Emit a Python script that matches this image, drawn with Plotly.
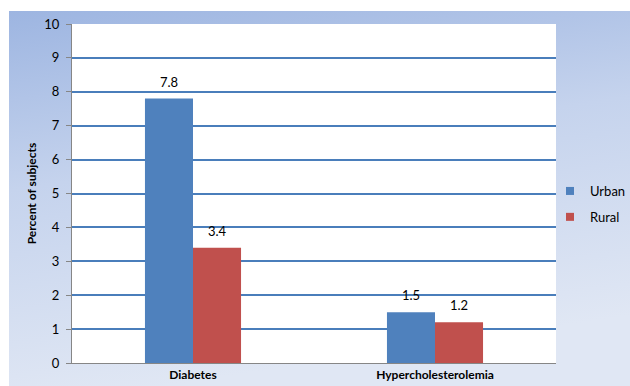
import base64
import plotly.graph_objects as go

categories = ["Diabetes", "Hypercholesterolemia"]
urban = [7.8, 1.5]
rural = [3.4, 1.2]
series_names = ["Urban", "Rural"]
y_ticks = list(range(0, 11))

W, H = 630, 386
ML, MR, MT, MB = 72, 74, 24, 23
PW, PH = W - ML - MR, H - MT - MB
BAR_PX = PW / 2 * (1 - 0.603) / 2  # width of one bar in pixels

# gradient background (chart area of the original)
bx0, by0, bx1, by1 = 9, 11, 630, 386
svg = f'''<svg xmlns="http://www.w3.org/2000/svg" width="{bx1-bx0}" height="{by1-by0}" viewBox="0 0 {bx1-bx0} {by1-by0}" preserveAspectRatio="none">
<defs><linearGradient id="g" x1="0" y1="0" x2="0.25" y2="1">
<stop offset="0" stop-color="#9db5e1"/><stop offset="0.45" stop-color="#c5d3ed"/><stop offset="1" stop-color="#e0e7f4"/>
</linearGradient></defs>
<rect x="0" y="0" width="{bx1-bx0}" height="{by1-by0}" fill="url(#g)"/></svg>'''
uri = "data:image/svg+xml;base64," + base64.b64encode(svg.encode()).decode()

colors = {"Urban": "#4f81bd", "Rural": "#c0504d"}
FONT = "Lato, 'Open Sans', sans-serif"

fig = go.Figure()
annotations = []
for i, (name, vals) in enumerate(zip(series_names, [urban, rural])):
    fig.add_trace(go.Bar(
        x=categories, y=vals, name=name, showlegend=False,
        marker=dict(color=colors[name], line=dict(width=0)),
    ))
    shift = (-0.5 if i == 0 else 0.5) * BAR_PX
    for c, v in zip(categories, vals):
        annotations.append(dict(x=c, y=v, text=f"{v}", showarrow=False, xref="x", yref="y",
                                xshift=shift, yshift=7, yanchor="bottom",
                                font=dict(size=13, family=FONT, color="#000000")))
for name in series_names:
    fig.add_trace(go.Scatter(
        x=[None], y=[None], mode="markers", name=name, legendgroup=name,
        marker=dict(symbol="square", size=8, color=colors[name]),
    ))

fig.update_layout(
    width=W, height=H,
    margin=dict(l=ML, r=MR, t=MT, b=MB, autoexpand=False),
    paper_bgcolor="#ffffff", plot_bgcolor="#ffffff",
    barmode="group", bargap=0.603, bargroupgap=0,
    font=dict(family=FONT, size=12, color="#000000"),
    annotations=annotations,
    images=[dict(source=uri, xref="paper", yref="paper",
                 x=(bx0 - ML) / PW, y=(H - MB - by0) / PH,
                 sizex=(bx1 - bx0) / PW, sizey=(by1 - by0) / PH,
                 xanchor="left", yanchor="top", sizing="stretch", layer="below")],
    shapes=[dict(type="rect", xref="paper", yref="paper", x0=0, x1=1, y0=0, y1=1,
                 fillcolor="#ffffff", line=dict(width=0), layer="below")],
    legend=dict(x=(550 - ML) / PW, y=(H - MB - 204) / PH, xanchor="left", yanchor="middle",
                bgcolor="rgba(0,0,0,0)", font=dict(size=13, family=FONT),
                tracegroupgap=6, itemwidth=30),
    xaxis=dict(showline=True, linecolor="#868686", linewidth=1, ticks="",
               tickfont=dict(size=12, family=FONT, weight="bold"),
               ticklabelstandoff=1, showgrid=False, zeroline=False),
    yaxis=dict(range=[0, 10], tickvals=y_ticks, showline=True, linecolor="#868686", linewidth=1,
               ticks="outside", ticklen=5, tickcolor="#868686",
               showgrid=True, gridcolor="#4a7ebb", gridwidth=1.5, zeroline=False,
               tickfont=dict(size=13, family=FONT), ticklabelstandoff=4,
               title=dict(text="<b>Percent of subjects</b>", font=dict(size=12, family=FONT), standoff=5)),
)

fig.write_html("out.html")
